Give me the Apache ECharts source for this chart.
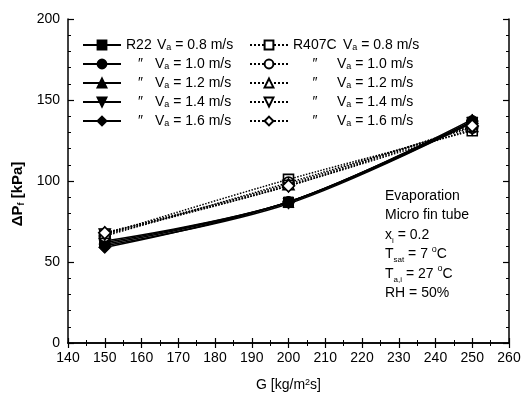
<!DOCTYPE html>
<html>
<head>
<meta charset="utf-8">
<script src="https://cdn.jsdelivr.net/npm/echarts@6/dist/echarts.min.js"></script>
<style>
  html, body { margin: 0; padding: 0; background: #fff; }
  #chart { width: 526px; height: 401px; }
</style>
</head>
<body>
<div id="chart"></div>
<script>
// mass flux G [kg/m2s]
var massFlux = [150, 200, 250];
var airVelocity = ['0.8', '1.0', '1.2', '1.4', '1.6'];

// pressure drop dP_f [kPa], R22
var r22_08 = [62, 87, 136];
var r22_10 = [61, 87, 137];
var r22_12 = [63, 87, 138];
var r22_14 = [60, 86, 136];
var r22_16 = [59, 87, 137];

// pressure drop dP_f [kPa], R407C
var r407c_08 = [67, 101, 131];
var r407c_10 = [66, 99, 133];
var r407c_12 = [68, 98, 134];
var r407c_14 = [67, 97, 132];
var r407c_16 = [68, 97, 134];

var r22Data = [r22_08, r22_10, r22_12, r22_14, r22_16];
var r407cData = [r407c_08, r407c_10, r407c_12, r407c_14, r407c_16];

var FONT = 'Liberation Sans';
var downTri = 'path://M0,0 L10,0 L5,9 Z';
var filledSymbols = ['rect', 'circle', 'triangle', downTri, 'diamond'];
var symbolSizes = [10, 11, 11, 11, 12];

var chart = echarts.init(document.getElementById('chart'));

function pairs(vals) {
  return vals.map(function (v, i) { return [massFlux[i], v]; });
}

var series = [];
var r22Names = [], r407cNames = [];
airVelocity.forEach(function (va, i) {
  var n1 = 'R22|' + i;
  r22Names.push(n1);
  series.push({
    name: n1, type: 'line', smooth: 0.35,
    data: pairs(r22Data[i]),
    symbol: filledSymbols[i], symbolSize: symbolSizes[i],
    lineStyle: { color: '#000', width: 1.5, type: 'solid' },
    itemStyle: { color: '#000', borderColor: '#000', borderWidth: 1 },
    z: 3
  });
});
airVelocity.forEach(function (va, i) {
  var n2 = 'R407C|' + i;
  r407cNames.push(n2);
  series.push({
    name: n2, type: 'line', smooth: 0.35,
    data: pairs(r407cData[i]),
    symbol: filledSymbols[i], symbolSize: symbolSizes[i],
    lineStyle: { color: '#000', width: 1.5, type: 'dotted' },
    itemStyle: { color: '#fff', borderColor: '#000', borderWidth: 1.6 },
    z: 4
  });
});

function legendRich(prefixW, dittoW) {
  return {
    p: { fontFamily: FONT, fontSize: 14, color: '#000', lineHeight: 14, width: prefixW },
    d: { fontFamily: FONT, fontSize: 14, color: '#000', lineHeight: 14, width: dittoW, align: 'center' },
    v: { fontFamily: FONT, fontSize: 14, color: '#000', lineHeight: 14 },
    s: { fontFamily: FONT, fontSize: 9, color: '#000', lineHeight: 14, verticalAlign: 'bottom', padding: [6, 0, 0, 0] }
  };
}

function legendFmt(name) {
  var parts = name.split('|');
  var i = +parts[1];
  var head = i === 0 ? '{p|' + parts[0] + '}' : '{d|\u2033}';
  return head + '{v|V}{s|a}{v| = ' + airVelocity[i] + ' m/s}';
}

var option = {
  animation: false,
  backgroundColor: '#fff',
  grid: { left: 68, right: 17, top: 19, bottom: 58 },
  legend: [
    {
      data: r22Names, orient: 'vertical', left: 77, top: 32,
      itemWidth: 38, itemHeight: 11, itemGap: 4,
      formatter: legendFmt,
      textStyle: { rich: legendRich(31, 29) }
    },
    {
      data: r407cNames, orient: 'vertical', left: 244, top: 32,
      itemWidth: 38, itemHeight: 11, itemGap: 4,
      formatter: legendFmt,
      textStyle: { rich: legendRich(50, 44) }
    }
  ],
  xAxis: [
    {
      type: 'value', min: 140, max: 260, interval: 10,
      name: 'G [kg/m{sup|2}s]', nameLocation: 'middle', nameGap: 35,
      nameTextStyle: {
        fontFamily: FONT, fontSize: 14, color: '#000',
        rich: { sup: { fontFamily: FONT, fontSize: 9, color: '#000', verticalAlign: 'top', padding: [0, 0, 6, 0] } }
      },
      axisLine: { lineStyle: { color: '#000', width: 1.5 } },
      axisTick: { inside: true, length: 5, lineStyle: { color: '#000', width: 1.2 } },
      minorTick: { show: true, splitNumber: 2, length: 3, lineStyle: { color: '#000' } },
      axisLabel: { fontFamily: FONT, fontSize: 14, color: '#000', margin: 8 },
      splitLine: { show: false }
    },
    {
      type: 'value', min: 140, max: 260, interval: 10, position: 'top',
      axisLine: { lineStyle: { color: '#000', width: 1.5 } },
      axisTick: { inside: true, length: 5, lineStyle: { color: '#000', width: 1.2 } },
      minorTick: { show: true, splitNumber: 2, length: 3, lineStyle: { color: '#000' } },
      axisLabel: { show: false },
      splitLine: { show: false }
    }
  ],
  yAxis: [
    {
      type: 'value', min: 0, max: 200, interval: 50,
      name: '\u0394P{sub|f} [kPa]', nameLocation: 'middle', nameGap: 41, nameRotate: 90,
      nameTextStyle: {
        fontFamily: FONT, fontSize: 15, fontWeight: 'bold', color: '#000',
        padding: [0, 26, 0, 0],
        rich: { sub: { fontFamily: FONT, fontSize: 9, fontWeight: 'bold', color: '#000', verticalAlign: 'bottom', padding: [6, 0, 0, 0] } }
      },
      axisLine: { lineStyle: { color: '#000', width: 1.5 } },
      axisTick: { inside: true, length: 6, lineStyle: { color: '#000', width: 1.2 } },
      minorTick: { show: true, splitNumber: 5, length: 3, lineStyle: { color: '#000' } },
      axisLabel: { fontFamily: FONT, fontSize: 14, color: '#000', margin: 8 },
      splitLine: { show: false }
    },
    {
      type: 'value', min: 0, max: 200, interval: 50, position: 'right',
      axisLine: { lineStyle: { color: '#000', width: 1.5 } },
      axisTick: { inside: true, length: 6, lineStyle: { color: '#000', width: 1.2 } },
      minorTick: { show: true, splitNumber: 5, length: 3, lineStyle: { color: '#000' } },
      axisLabel: { show: false },
      splitLine: { show: false }
    }
  ],
  graphic: [
    {
      type: 'text', left: 385, top: 189,
      style: {
        text: [
          '{t|Evaporation}',
          '{t|Micro fin tube}',
          '{t|x}{s|i}{t| = 0.2}',
          '{t|T}{s|sat}{t| = 7 }{u|o}{t|C}',
          '{t|T}{s|a,i}{t| = 27 }{u|o}{t|C}',
          '{t|RH = 50%}'
        ].join('\n'),
        rich: {
          t: { fontFamily: FONT, fontSize: 14, fill: '#000', lineHeight: 19.5 },
          s: { fontFamily: FONT, fontSize: 8, fill: '#000', lineHeight: 19.5, verticalAlign: 'bottom', padding: [7, 0, 0, 0] },
          u: { fontFamily: FONT, fontSize: 9, fill: '#000', lineHeight: 19.5, verticalAlign: 'top', padding: [0, 0, 7, 0] }
        }
      }
    }
  ],
  series: series
};

chart.setOption(option);
</script>
</body>
</html>
